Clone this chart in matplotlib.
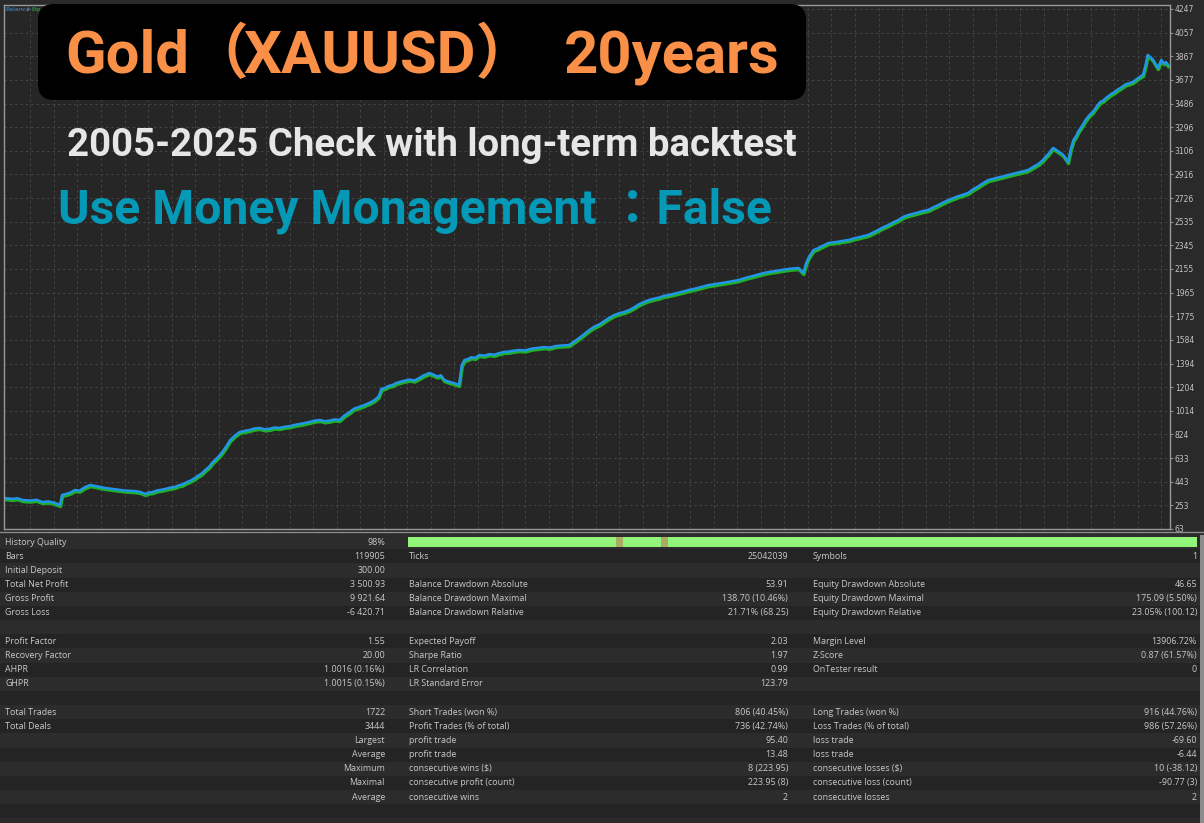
import matplotlib.pyplot as plt
import numpy as np
from matplotlib import transforms
from matplotlib.patches import FancyBboxPatch, Rectangle

# balance curve
trades = [0, 10, 18, 26, 37, 46, 55, 64, 74, 81, 84, 90, 97, 103, 110, 118, 126, 132, 137,
          143, 148, 155, 160, 166, 170, 178, 185, 192, 200, 207, 212, 218, 224, 229, 235,
          240, 246, 251, 257, 262, 268, 273, 280, 285, 291, 296, 302, 307, 312, 318, 325,
          333, 340, 347, 354, 362, 369, 377, 384, 392, 399, 406, 413, 421, 428, 436, 443,
          451, 458, 466, 473, 480, 488, 495, 502, 510, 516, 521, 527, 532, 540, 547, 553,
          557, 562, 568, 573, 579, 584, 590, 599, 606, 613, 620, 628, 634, 640, 645, 650,
          656, 662, 667, 672, 676, 680, 685, 690, 696, 702, 709, 717, 724, 732, 739, 746,
          753, 761, 770, 780, 789, 798, 806, 815, 825, 835, 842, 850, 857, 865, 872, 880,
          887, 894, 902, 910, 917, 924, 931, 938, 946, 953, 960, 968, 975, 983, 990, 998,
          1005, 1012, 1020, 1027, 1034, 1042, 1053, 1064, 1075, 1086, 1097, 1108, 1120,
          1131, 1142, 1153, 1164, 1175, 1182, 1186, 1190, 1197, 1203, 1208, 1214, 1219,
          1227, 1234, 1241, 1249, 1256, 1264, 1271, 1278, 1286, 1293, 1300, 1308, 1315,
          1323, 1330, 1338, 1345, 1352, 1360, 1367, 1374, 1382, 1389, 1397, 1404, 1411,
          1418, 1426, 1433, 1441, 1448, 1456, 1463, 1470, 1478, 1485, 1492, 1500, 1507,
          1515, 1522, 1530, 1537, 1541, 1545, 1549, 1552, 1556, 1560, 1564, 1567, 1571,
          1574, 1578, 1582, 1586, 1589, 1594, 1600, 1605, 1611, 1618, 1622, 1626, 1630,
          1637, 1643, 1648, 1654, 1659, 1665, 1670, 1675, 1680, 1685, 1689, 1692, 1696,
          1700, 1704, 1707, 1710, 1712, 1716, 1719, 1722]
balance = [312, 305, 310, 296, 292, 298, 280, 285, 272, 256, 337, 345, 358, 377, 372, 400,
           417, 410, 405, 398, 393, 388, 385, 380, 377, 372, 370, 368, 361, 345, 356, 360,
           372, 377, 383, 390, 398, 401, 415, 420, 438, 449, 470, 490, 510, 538, 565, 600,
           625, 658, 710, 779, 815, 843, 852, 860, 872, 876, 865, 870, 880, 876, 885, 890,
           900, 908, 915, 925, 935, 940, 930, 935, 945, 940, 975, 1004, 1030, 1040, 1050,
           1061, 1080, 1101, 1130, 1190, 1198, 1215, 1220, 1238, 1246, 1255, 1265, 1258,
           1278, 1300, 1318, 1305, 1290, 1300, 1262, 1250, 1240, 1232, 1222, 1380, 1423,
           1430, 1445, 1440, 1463, 1458, 1470, 1465, 1479, 1488, 1490, 1498, 1503, 1500,
           1515, 1520, 1527, 1522, 1535, 1540, 1543, 1570, 1600, 1630, 1664, 1690, 1710,
           1735, 1761, 1785, 1800, 1810, 1825, 1845, 1870, 1890, 1905, 1915, 1925, 1938,
           1946, 1955, 1965, 1975, 1986, 1995, 2005, 2015, 2026, 2035, 2045, 2055, 2066,
           2085, 2100, 2118, 2131, 2140, 2150, 2158, 2163, 2123, 2200, 2250, 2308, 2320,
           2335, 2350, 2364, 2370, 2375, 2382, 2388, 2400, 2410, 2420, 2429, 2450, 2470,
           2490, 2509, 2530, 2550, 2575, 2590, 2600, 2610, 2622, 2630, 2650, 2670, 2690,
           2710, 2725, 2740, 2752, 2767, 2795, 2820, 2845, 2871, 2880, 2890, 2900, 2911,
           2920, 2930, 2940, 2952, 2975, 3000, 3032, 3060, 3080, 3110, 3129, 3115, 3100,
           3085, 3072, 3040, 3016, 3120, 3193, 3225, 3260, 3300, 3354, 3390, 3420, 3475,
           3500, 3510, 3530, 3560, 3579, 3600, 3620, 3640, 3650, 3660, 3680, 3700, 3716,
           3800, 3877, 3860, 3837, 3800, 3772, 3810, 3837, 3810, 3820, 3796]
y_ticks = [63, 253, 443, 633, 824, 1014, 1204, 1394, 1584, 1775, 1965, 2155, 2345, 2535,
           2726, 2916, 3106, 3296, 3486, 3677, 3867, 4057, 4247]

# report table, three columns of label / value
col1_labels = ["History Quality", "Bars", "Initial Deposit", "Total Net Profit", "Gross Profit",
               "Gross Loss", "", "Profit Factor", "Recovery Factor", "AHPR", "GHPR", "",
               "Total Trades", "Total Deals", "", "", "", "", ""]
col1_values = ["98%", "119905", "300.00", "3 500.93", "9 921.64", "-6 420.71", "", "1.55",
               "20.00", "1.0016 (0.16%)", "1.0015 (0.15%)", "", "1722", "3444", "Largest",
               "Average", "Maximum", "Maximal", "Average"]
col2_labels = ["", "Ticks", "", "Balance Drawdown Absolute", "Balance Drawdown Maximal",
               "Balance Drawdown Relative", "", "Expected Payoff", "Sharpe Ratio",
               "LR Correlation", "LR Standard Error", "", "Short Trades (won %)",
               "Profit Trades (% of total)", "profit trade", "profit trade",
               "consecutive wins ($)", "consecutive profit (count)", "consecutive wins"]
col2_values = ["", "25042039", "", "53.91", "138.70 (10.46%)", "21.71% (68.25)", "", "2.03",
               "1.97", "0.99", "123.79", "", "806 (40.45%)", "736 (42.74%)", "95.40", "13.48",
               "8 (223.95)", "223.95 (8)", "2"]
col3_labels = ["", "Symbols", "", "Equity Drawdown Absolute", "Equity Drawdown Maximal",
               "Equity Drawdown Relative", "", "Margin Level", "Z-Score", "OnTester result",
               "", "", "Long Trades (won %)", "Loss Trades (% of total)", "loss trade",
               "loss trade", "consecutive losses ($)", "consecutive loss (count)",
               "consecutive losses"]
col3_values = ["", "1", "", "46.65", "175.09 (5.50%)", "23.05% (100.12)", "", "13906.72%",
               "0.87 (61.57%)", "0", "", "", "916 (44.76%)", "986 (57.26%)", "-69.60", "-6.44",
               "10 (-38.12)", "-90.77 (3)", "2"]
# low quality parts of the history bar (fraction of the bar)
low_quality = [(0.264, 0.273), (0.321, 0.330)]

fig = plt.figure(figsize=(12.04, 8.23), dpi=100, facecolor="#2a2a2a")

# chart
ax = fig.add_axes([4 / 1204, 1 - 529 / 823, 1166 / 1204, 524 / 823], facecolor="#262626")
eq_tr = transforms.offset_copy(ax.transData, fig=fig, x=0.5, y=-1.6, units="dots")
ax.plot(trades, balance, color="#1fb02a", lw=2.4, transform=eq_tr)
ax.plot(trades, balance, color="#2196e8", lw=1.8)
ax.set_xlim(-2, 1725)
ax.set_ylim(63, 4279)
ax.set_xticks(np.arange(37, 1722, 34.9))
ax.set_xticklabels([])
ax.tick_params(axis="x", length=0)
ax.yaxis.tick_right()
ax.set_yticks(y_ticks)
ax.set_yticklabels([str(t) for t in y_ticks])
ax.tick_params(axis="y", labelsize=5.5, labelcolor="#c4c4c4", color="#8a8a8a", length=2, pad=1.5)
ax.grid(True, color="#454545", lw=0.7, ls=(0, (2.5, 3)))
for s in ax.spines.values():
    s.set_color("#9a9a9a")
    s.set_linewidth(1)

# overlay in pixel coordinates
ov = fig.add_axes([0, 0, 1, 1], facecolor="none")
ov.set_xlim(0, 1204)
ov.set_ylim(823, 0)
ov.axis("off")

ov.text(5, 9, "Balance", color="#3a8fd8", fontsize=4.5, va="center")
ov.text(27, 9, "/", color="#9a9a9a", fontsize=4.5, va="center")
ov.text(31, 9, "Equity", color="#27b030", fontsize=4.5, va="center")

ov.add_patch(FancyBboxPatch((38, 4), 768, 96, boxstyle="round,pad=0,rounding_size=16",
                            fc="black", ec="none", zorder=5))
title_font = dict(color="#fa9047", fontsize=43, fontweight="bold",
                  family=["Roboto", "Noto Sans CJK JP"], zorder=6)
ov.text(65, 73, "Gold（", ha="left", **title_font)
ov.text(243, 73, "XAUUSD）", ha="left", **title_font)
ov.text(564, 73, "20years", ha="left", **title_font)
ov.text(67, 156, "2005-2025 Check with long-term backtest", color="#e6e6e6", fontsize=27.6,
        fontweight="bold", family=["Roboto", "Noto Sans CJK JP"], zorder=6)
ov.text(58, 223, "Use Money Monagement ：False", color="#0499b7", fontsize=34.6,
        fontweight="bold", family=["Roboto", "Noto Sans CJK JP"], zorder=6)

# report table
ov.plot([0, 1204], [532, 532], color="#8a8a8a", lw=1)
row_h = 14.17
top = 535
for i in range(20):
    ov.add_patch(Rectangle((0, top + i * row_h), 1200, row_h,
                           fc="#2c2c2c" if i % 2 == 0 else "#242424", ec="none"))
ov.add_patch(Rectangle((1200, top), 4, 823 - top, fc="#8c8c8c", ec="none"))

ov.add_patch(Rectangle((408, 537), 789, 10, fc="#92f57a", ec="none"))
for a, b in low_quality:
    ov.add_patch(Rectangle((408 + 789 * a, 537), 789 * (b - a), 10, fc="#a9ad62", ec="none"))

txt = dict(fontsize=6.4, color="#c8c8c8", va="center", family="Open Sans")
for i in range(len(col1_labels)):
    y = top + (i + 0.5) * row_h
    ov.text(5, y, col1_labels[i], ha="left", **txt)
    ov.text(385, y, col1_values[i], ha="right", **txt)
    ov.text(409, y, col2_labels[i], ha="left", **txt)
    ov.text(788, y, col2_values[i], ha="right", **txt)
    ov.text(813, y, col3_labels[i], ha="left", **txt)
    ov.text(1197, y, col3_values[i], ha="right", **txt)

fig.savefig("out.png", dpi=100, facecolor=fig.get_facecolor())
